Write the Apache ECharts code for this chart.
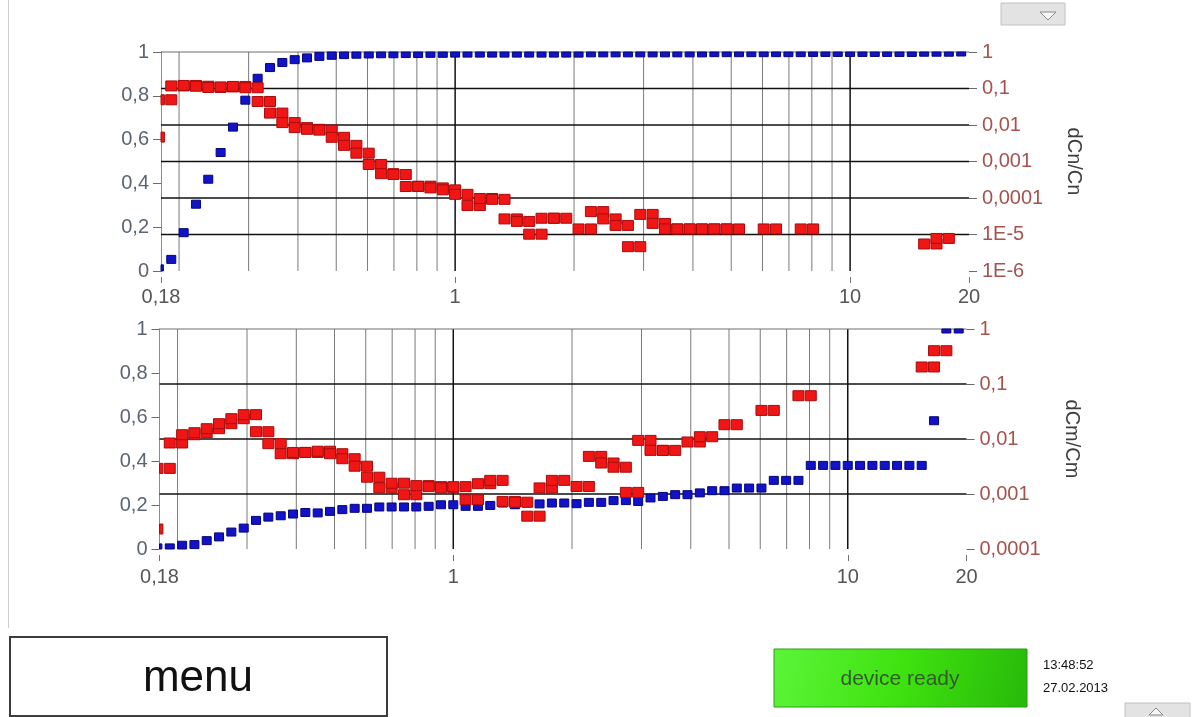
<!DOCTYPE html>
<html>
<head>
<meta charset="utf-8">
<script src="https://cdn.jsdelivr.net/npm/echarts@6/dist/echarts.min.js"></script>
<style>
html,body{margin:0;padding:0;background:#ffffff;}
#c{width:1198px;height:717px;}
</style>
</head>
<body>
<div id="c"></div>
<script>
// ---- data ----
// particle size grid (bin edges), µm
const sizes = [0.1655, 0.1778, 0.1911, 0.2054, 0.2207, 0.2371, 0.2548, 0.2738, 0.2943, 0.3162,
  0.3398, 0.3652, 0.3924, 0.4217, 0.4532, 0.4870, 0.5233, 0.5623, 0.6043, 0.6494,
  0.6978, 0.7499, 0.8058, 0.8660, 0.9306, 1.0, 1.0746, 1.1548, 1.2409, 1.3335,
  1.4330, 1.5399, 1.6548, 1.7783, 1.9110, 2.0535, 2.2067, 2.3714, 2.5483, 2.7384,
  2.9427, 3.1623, 3.3982, 3.6517, 3.9242, 4.2170, 4.5316, 4.8697, 5.2330, 5.6234,
  6.0430, 6.4938, 6.9783, 7.4989, 8.0584, 8.6596, 9.3057, 10.0, 10.746, 11.548,
  12.409, 13.335, 14.330, 15.399, 16.548, 17.783, 19.110];

// top panel: cumulative Cn (left axis), one value per size
const cnCum = [null, 0.01, 0.053, 0.175, 0.305, 0.419, 0.541, 0.657, 0.780, 0.880,
  0.929, 0.952, 0.965, 0.973, 0.980, 0.985, 0.988, 0.990, 0.991, 0.992,
  0.992, 0.993, 0.993, 0.994, 0.994, 0.995,
  0.995, 0.995, 0.995, 0.995, 0.995, 0.995, 0.995, 0.995, 0.995, 0.995,
  0.996, 0.996, 0.996, 0.996, 0.996, 0.996, 0.996, 0.996, 0.996, 0.996,
  0.997, 0.997, 0.997, 0.997, 0.997, 0.997, 0.997, 0.997,
  0.998, 0.998, 0.998, 0.998, 0.998, 0.998, 0.998, 0.998, 0.998,
  0.999, 0.999, 0.999, 1.0];

// top panel: dCn/Cn per size bin (right log axis); bin i spans sizes[i]..sizes[i+1]
const cnRel = [0.00466, 0.0491, 0.1175, 0.1213, 0.1153, 0.1069, 0.1104, 0.1138, 0.1049, 0.0441,
  0.0212, 0.01164, 0.00849, 0.00762, 0.00724, 0.0046, 0.00277, 0.00169, 0.00083, 0.000464,
  0.000441, 0.000206, 0.000211, 0.000189, 0.000167,
  0.000126, 6.2e-5, 9.7e-5, 9.2e-5, 2.67e-5, 2.28e-5, 1.02e-5, 2.79e-5, 2.79e-5, null,
  1.42e-5, 4.24e-5, 2.67e-5, 1.77e-5, 4.64e-6, 3.55e-5, 2.01e-5, 1.42e-5, 1.42e-5, 1.42e-5,
  1.42e-5, 1.42e-5, 1.42e-5, null, null, 1.42e-5, null, null, 1.42e-5,
  null, null, null, null, null, null, null, null, null,
  5.5e-6, 7.8e-6, null];

// bottom panel: cumulative Cm (left axis)
const cmCum = [null, 0.005, 0.005, 0.017, 0.02, 0.038, 0.055, 0.077, 0.095, 0.13,
  0.145, 0.151, 0.159, 0.166, 0.164, 0.171, 0.179, 0.185, 0.185, 0.191,
  0.191, 0.191, 0.191, 0.194, 0.201,
  0.201, 0.194, 0.194, 0.198, 0.209, 0.201, 0.209, 0.205, 0.209, 0.209,
  0.206, 0.212, 0.212, 0.22, 0.22, 0.216, 0.232, 0.239, 0.247, 0.247,
  0.255, 0.265, 0.265, 0.277, 0.277, 0.277, 0.312, 0.312, 0.312,
  0.38, 0.38, 0.38, 0.38, 0.38, 0.38, 0.38, 0.38, 0.38, 0.38,
  0.583, 1.0, 1.0];

// bottom panel: dCm/Cm per size bin (right log axis)
const cmRel = [0.000231, 0.00292, 0.00846, 0.01197, 0.01302, 0.01539, 0.01897, 0.0234, 0.0277, 0.01358,
  0.00822, 0.0054, 0.0057, 0.0057, 0.006, 0.0054, 0.00438, 0.0032, 0.00202, 0.0013,
  0.00157, 0.00097, 0.00142, 0.00136, 0.0013,
  0.00136, 0.000787, 0.00154, 0.00177, 0.000733, 0.00071, 0.000395, 0.00129, 0.00177, null,
  0.00137, 0.00483, 0.00366, 0.00307, 0.00107, 0.00944, 0.00621, 0.00621, null, 0.00882,
  0.011, null, 0.0182, null, null, 0.0331, null, null, 0.0612,
  null, null, null, null, null, null, null, null, null,
  0.204, 0.403, null];

// axes
const xMin = 0.18, xMax = 20;
const minorX = [0.2, 0.3, 0.4, 0.5, 0.6, 0.7, 0.8, 0.9, 2, 3, 4, 5, 6, 7, 8, 9];
const majorX = [1, 10];
const cnLevels = [0.1, 0.01, 0.001, 0.0001, 0.00001];
const cmLevels = [0.1, 0.01, 0.001];
const cnRange = [1e-6, 1];
const cmRange = [1e-4, 1];
const panelNames = ['dCn/Cn', 'dCm/Cm'];

// ---- helpers ----
const FONT = "'Liberation Sans', Arial, Helvetica, sans-serif";

function cumPoints(arr) {
  const out = [];
  arr.forEach(function (v, i) { if (v != null) out.push([sizes[i], v]); });
  return out;
}
function stepPoints(arr) {
  const out = [];
  arr.forEach(function (v, i) {
    if (v != null) { out.push([sizes[i], v]); out.push([sizes[i + 1], v]); }
  });
  return out;
}
function marker(w, h, fill, stroke) {
  return function (params, api) {
    const c = api.coord([api.value(0), api.value(1)]);
    const cs = params.coordSys;
    const r = echarts.graphic.clipRectByRect(
      { x: c[0] - w / 2, y: c[1] - h / 2, width: w, height: h },
      { x: cs.x, y: cs.y, width: cs.width, height: cs.height });
    if (!r) return null;
    return { type: 'rect', shape: r, style: { fill: fill, stroke: stroke, lineWidth: 1 } };
  };
}
function vLine(color, width) {
  return function (params, api) {
    const cs = params.coordSys;
    const x = api.coord([api.value(0), api.value(1)])[0];
    return { type: 'line', shape: { x1: x, y1: cs.y, x2: x, y2: cs.y + cs.height },
      style: { stroke: color, lineWidth: width } };
  };
}
function hLine(color, width) {
  return function (params, api) {
    const cs = params.coordSys;
    const y = api.coord([api.value(0), api.value(1)])[1];
    return { type: 'line', shape: { x1: cs.x, y1: y, x2: cs.x + cs.width, y2: y },
      style: { stroke: color, lineWidth: width } };
  };
}
function fmtX(v) {
  const r = Math.round(v * 100) / 100;
  return String(r).replace('.', ',');
}
function fmtLog(v) {
  const e = Math.round(Math.log10(v));
  if (e === 0) return '1';
  if (e >= -4) return '0,' + '0'.repeat(-e - 1) + '1';
  return '1E' + e;
}
function fmtLin(v) {
  return String(Math.round(v * 10) / 10).replace('.', ',');
}

const grids = [
  { left: 161, top: 52, width: 808, height: 219 },
  { left: 159.5, top: 329, width: 807, height: 220 }
];

const xAxes = [], yAxes = [], series = [];
[0, 1].forEach(function (g) {
  xAxes.push({
    type: 'log', logBase: 10, gridIndex: g, min: xMin, max: xMax,
    axisLine: { show: false },
    splitLine: { show: false },
    axisTick: { show: true, length: 12, lineStyle: { color: '#707070', width: 1, type: [6, 6], dashOffset: 6 } },
    axisLabel: { show: true, margin: g ? 18 : 16, fontSize: 20, color: '#555555', fontFamily: FONT,
      showMinLabel: true, showMaxLabel: true, formatter: fmtX }
  });
  yAxes.push({
    type: 'value', gridIndex: g, position: 'left', min: 0, max: 1, interval: 0.2,
    axisLine: { show: true, lineStyle: { color: '#8c8c8c', width: 1 } },
    axisTick: { show: true, length: 8, lineStyle: { color: '#6a6a6a' } },
    splitLine: { show: false },
    axisLabel: { margin: 12, fontSize: 20, color: '#5a6472', fontFamily: FONT, formatter: fmtLin }
  });
  const rng = g ? cmRange : cnRange;
  yAxes.push({
    type: 'log', logBase: 10, gridIndex: g, position: 'right', min: rng[0], max: rng[1],
    axisLine: { show: false },
    axisTick: { show: true, length: 8, lineStyle: { color: '#6a6a6a' } },
    splitLine: { show: false },
    axisLabel: { margin: 13, fontSize: 20, color: '#a5534f', fontFamily: FONT, formatter: fmtLog },
    name: panelNames[g], nameLocation: 'middle', nameRotate: -90, nameGap: 95,
    nameTextStyle: { fontSize: 20, color: '#3e3e3e', fontFamily: FONT }
  });
  const yl = g * 2, yr = g * 2 + 1;
  series.push({ type: 'custom', xAxisIndex: g, yAxisIndex: yl, z: 1, silent: true,
    renderItem: vLine('#7a7a7a', 1), data: minorX.map(function (v) { return [v, 0]; }) });
  series.push({ type: 'custom', xAxisIndex: g, yAxisIndex: yl, z: 1, silent: true,
    renderItem: vLine('#111111', 1.5), data: majorX.map(function (v) { return [v, 0]; }) });
  series.push({ type: 'custom', xAxisIndex: g, yAxisIndex: yr, z: 1, silent: true,
    renderItem: hLine('#111111', 1.5), data: (g ? cmLevels : cnLevels).map(function (v) { return [xMin, v]; }) });
  series.push({ type: 'custom', xAxisIndex: g, yAxisIndex: yl, z: 1, silent: true,
    renderItem: hLine('#6f6f6f', 1), data: [[xMin, 1]] });
  series.push({ type: 'custom', xAxisIndex: g, yAxisIndex: yl, z: 3, silent: true,
    renderItem: marker(9, 8, '#1212c8', '#06067a'), data: cumPoints(g ? cmCum : cnCum) });
  series.push({ type: 'custom', xAxisIndex: g, yAxisIndex: yr, z: 4, silent: true,
    renderItem: marker(11, 10, '#f01616', '#a80c0c'), data: stepPoints(g ? cmRel : cnRel) });
});

const chart = echarts.init(document.getElementById('c'), null, { renderer: 'canvas' });
chart.setOption({
  animation: false,
  backgroundColor: '#ffffff',
  textStyle: { fontFamily: FONT },
  grid: grids,
  xAxis: xAxes,
  yAxis: yAxes,
  series: series,
  graphic: [
    { type: 'line', shape: { x1: 8.5, y1: 0, x2: 8.5, y2: 628 }, style: { stroke: '#cfcfcf', lineWidth: 1 } },
    { type: 'rect', shape: { x: 10, y: 637, width: 377, height: 79 },
      style: { fill: '#ffffff', stroke: '#3c3c3c', lineWidth: 2 } },
    { type: 'text', style: { text: 'menu', x: 198, y: 679, textAlign: 'center', textVerticalAlign: 'middle',
      fontSize: 44, fill: '#111111', fontFamily: FONT } },
    { type: 'rect', shape: { x: 774, y: 649, width: 253, height: 58 },
      style: { fill: new echarts.graphic.LinearGradient(0, 0, 1, 1, [
        { offset: 0, color: '#5cf53a' }, { offset: 0.5, color: '#3fe20f' }, { offset: 1, color: '#27b90a' }]),
        stroke: '#2c9a18', lineWidth: 1 } },
    { type: 'text', style: { text: 'device ready', x: 900, y: 679, textAlign: 'center', textVerticalAlign: 'middle',
      fontSize: 21, fill: '#2f5d28', fontFamily: FONT } },
    { type: 'text', style: { text: '13:48:52', x: 1043, y: 665, textAlign: 'left', textVerticalAlign: 'middle',
      fontSize: 13, fill: '#111111', fontFamily: FONT } },
    { type: 'text', style: { text: '27.02.2013', x: 1043, y: 688, textAlign: 'left', textVerticalAlign: 'middle',
      fontSize: 13, fill: '#111111', fontFamily: FONT } },
    { type: 'rect', shape: { x: 1001, y: 3, width: 64, height: 22 },
      style: { fill: '#e3e3e3', stroke: '#c2c2c2', lineWidth: 1 } },
    { type: 'polygon', shape: { points: [[1040, 12], [1056, 12], [1048, 20]] },
      style: { fill: '#f5f5f5', stroke: '#8a8a8a', lineWidth: 1 } },
    { type: 'rect', shape: { x: 1125, y: 703, width: 65, height: 16 },
      style: { fill: '#e3e3e3', stroke: '#c2c2c2', lineWidth: 1 } },
    { type: 'polygon', shape: { points: [[1149, 715], [1163, 715], [1156, 708]] },
      style: { fill: '#f5f5f5', stroke: '#8a8a8a', lineWidth: 1 } }
  ]
});
</script>
</body>
</html>
